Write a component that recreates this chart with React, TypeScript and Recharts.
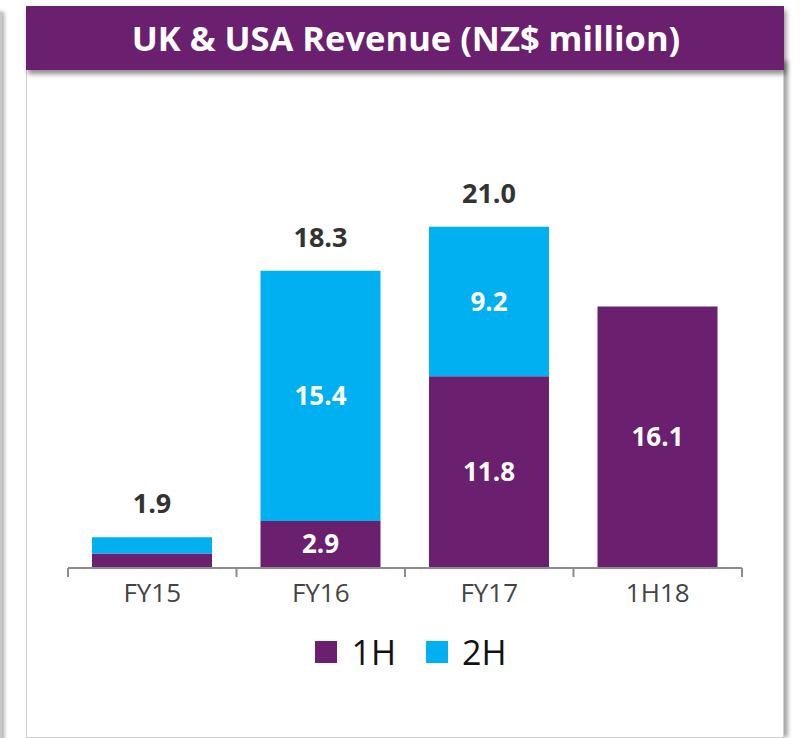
import React from 'react';
import { BarChart, Bar, XAxis, YAxis, LabelList, Legend } from 'recharts';

const categories = ['FY15', 'FY16', 'FY17', '1H18'];
const firstHalf = [0.9, 2.9, 11.8, 16.1];
const secondHalf = [1.0, 15.4, 9.2, 0];
const totalLabels = ['1.9', '18.3', '21.0', null];
const firstHalfLabels = [null, '2.9', '11.8', '16.1'];
const secondHalfLabels = [null, '15.4', '9.2', null];

const PURPLE = '#6a1f6f';
const CYAN = '#00b0f0';
const FONT = '"Open Sans", "Noto Sans", sans-serif';

const data = categories.map((name, i) => ({
  name,
  h1: firstHalf[i],
  h2: secondHalf[i],
  total: totalLabels[i],
  h1Label: firstHalfLabels[i],
  h2Label: secondHalfLabels[i],
}));

// tick with boundary marks between categories
const CategoryTick = (props: any) => {
  const { x, y, payload, index, visibleTicksCount } = props;
  const half = payload.offset ?? 0;
  const isLast = index === visibleTicksCount - 1;
  return (
    <g>
      <line x1={x - half} x2={x - half} y1={y} y2={y + 9} stroke="#8c8c8c" strokeWidth={2} />
      {isLast && <line x1={x + half} x2={x + half} y1={y} y2={y + 9} stroke="#8c8c8c" strokeWidth={2} />}
      <text x={x} y={y + 34} textAnchor="middle" fill="#444444" fontSize={26} fontFamily={FONT}>
        {payload.value}
      </text>
    </g>
  );
};

const insideLabel = (props: any) => {
  const { x, y, width, height, value } = props;
  if (value == null) return null;
  return (
    <text
      x={Number(x) + Number(width) / 2}
      y={Number(y) + Number(height) / 2 + 9}
      textAnchor="middle"
      fill="#ffffff"
      fontSize={26}
      fontWeight={700}
      fontFamily={FONT}
    >
      {value}
    </text>
  );
};

const totalLabel = (props: any) => {
  const { x, y, width, value } = props;
  if (value == null) return null;
  return (
    <text
      x={Number(x) + Number(width) / 2}
      y={Number(y) - 24}
      textAnchor="middle"
      fill="#333333"
      fontSize={27}
      fontWeight={700}
      fontFamily={FONT}
    >
      {value}
    </text>
  );
};

const legendItems = [
  { label: '1H', color: PURPLE },
  { label: '2H', color: CYAN },
];

const renderLegend = () => (
  <div style={{ display: 'flex', justifyContent: 'center', alignItems: 'center', paddingLeft: 22, fontFamily: FONT }}>
    {legendItems.map((item) => (
      <div key={item.label} style={{ display: 'flex', alignItems: 'center', margin: '0 15px' }}>
        <span style={{ width: 22, height: 22, background: item.color, display: 'inline-block', marginRight: 14 }} />
        <span style={{ fontSize: 34, color: '#111', lineHeight: '40px' }}>{item.label}</span>
      </div>
    ))}
  </div>
);

export default function App() {
  return (
    <div style={{ position: 'absolute', left: 0, top: 0, width: 800, height: 738, background: '#fff', overflow: 'hidden' }}>
      {/* neighbouring panel edge */}
      <div style={{ position: 'absolute', left: -6, top: 12, width: 8, height: 740, background: '#c8c8c8', boxShadow: '2px 0 4px rgba(0,0,0,0.35)' }} />
      {/* panel */}
      <div
        style={{
          position: 'absolute',
          left: 26,
          top: 60,
          width: 756,
          height: 676,
          border: '1px solid #d0d0d0',
          background: '#fff',
          boxShadow: '5px 0 4px -1px rgba(0,0,0,0.35)',
        }}
      />
      {/* title bar */}
      <div
        style={{
          position: 'absolute',
          left: 26,
          top: 6,
          width: 758,
          height: 64,
          background: PURPLE,
          boxShadow: '2px 4px 5px rgba(0,0,0,0.45)',
          color: '#fff',
          fontFamily: FONT,
          fontWeight: 700,
          fontSize: 34.5,
          lineHeight: '64px',
          textAlign: 'center',
          paddingLeft: 2,
          boxSizing: 'border-box',
        }}
      >
        UK &amp; USA Revenue (NZ$ million)
      </div>
      <div style={{ position: 'absolute', left: 0, top: 0 }}>
        <BarChart
          width={800}
          height={738}
          data={data}
          margin={{ top: 178, right: 58, bottom: 120, left: 68 }}
          barSize={120}
        >
          <XAxis
            dataKey="name"
            height={50}
            axisLine={{ stroke: '#8c8c8c', strokeWidth: 2 }}
            tickLine={false}
            tickSize={0}
            tickMargin={0}
            tick={<CategoryTick />}
            interval={0}
          />
          <YAxis hide domain={[0, 24]} />
          <Bar dataKey="h1" stackId="a" fill={PURPLE} isAnimationActive={false}>
            <LabelList dataKey="h1Label" content={insideLabel} />
          </Bar>
          <Bar dataKey="h2" stackId="a" fill={CYAN} isAnimationActive={false}>
            <LabelList dataKey="h2Label" content={insideLabel} />
            <LabelList dataKey="total" content={totalLabel} />
          </Bar>
          <Legend
            layout="horizontal"
            verticalAlign="middle"
            align="center"
            content={renderLegend}
            wrapperStyle={{ top: 632, left: 0, width: 800 }}
          />
        </BarChart>
      </div>
    </div>
  );
}
